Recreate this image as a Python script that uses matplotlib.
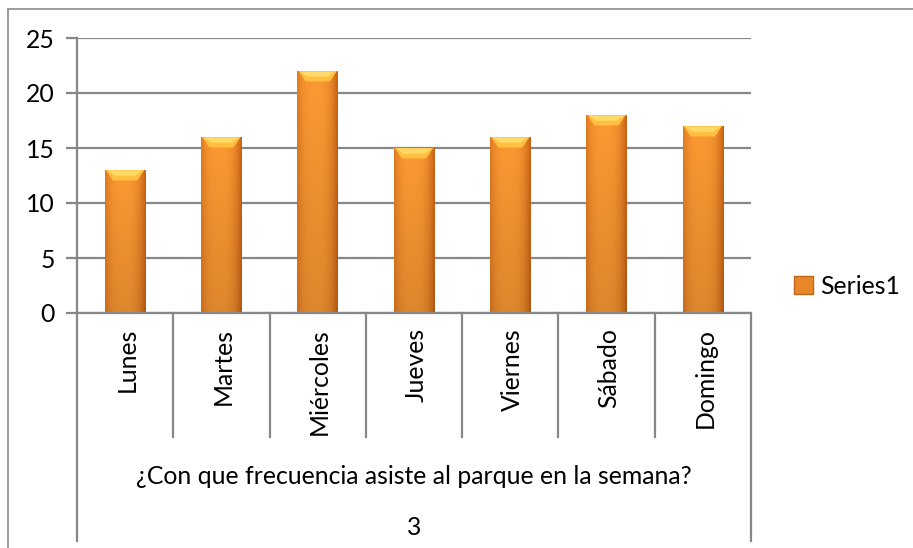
import numpy as np
import matplotlib
matplotlib.use("Agg")
import matplotlib.pyplot as plt
from matplotlib.lines import Line2D
from matplotlib.patches import Polygon, Patch
import matplotlib.transforms as mtransforms

categories = ["Lunes", "Martes", "Miércoles", "Jueves", "Viernes", "Sábado", "Domingo"]
values = [13, 16, 22, 15, 16, 18, 17]
yticks = [0, 5, 10, 15, 20, 25]
group_label = "¿Con que frecuencia asiste al parque en la semana?"
outer_label = "3"
series_name = "Series1"

plt.rcParams['font.family'] = ['Lato', 'DejaVu Sans']
W, H = 913, 548
fig = plt.figure(figsize=(W / 100, H / 100), dpi=100)
ax = fig.add_axes([77 / W, 1 - 313 / H, (751 - 77) / W, 275 / H])

grid_c = "#878787"
text_c = "#000000"
fs = 17.8

# bars with gradient fill
bw = 0.42
bars = ax.bar(range(len(values)), values, width=bw, color="#F7922E", zorder=3, linewidth=0)
xs = np.linspace(0, 1, 64)
edge = np.array([0.78, 0.38, 0.08])
mid = np.array([0.99, 0.60, 0.20])
prof = np.clip(1 - (np.abs(xs - 0.45) / 0.55) ** 3, 0, 1)
ys = np.linspace(0, 1, 64)
img = np.zeros((64, 64, 3))
for i, yy in enumerate(ys):
    shade = 0.88 + 0.12 * yy
    row = edge[None, :] + (mid - edge)[None, :] * prof[:, None]
    img[i] = np.clip(row * shade, 0, 1)
for b in bars:
    x0 = b.get_x(); w = b.get_width(); h = b.get_height()
    im = ax.imshow(img, extent=[x0, x0 + w, 0, h], origin="lower", aspect="auto", zorder=4,
                   interpolation="bilinear")
    im.set_clip_path(b)
    cap = 0.95
    d = w * 0.2
    poly = Polygon([[x0 + 0.01, h], [x0 + w - 0.01, h], [x0 + w - d, h - cap], [x0 + d, h - cap]],
                   closed=True, facecolor="#FFC040", edgecolor="none", zorder=5)
    ax.add_patch(poly)
    poly2 = Polygon([[x0 + 0.03, h - 0.05], [x0 + w - 0.03, h - 0.05], [x0 + w - d - 0.02, h - cap * 0.55], [x0 + d + 0.02, h - cap * 0.55]],
                    closed=True, facecolor="#FFDA68", edgecolor="none", zorder=6)
    ax.add_patch(poly2)

ax.set_xlim(-0.5, len(values) - 0.5)
ax.set_ylim(0, 25)
ax.set_yticks(yticks)
ax.set_yticklabels([str(v) for v in yticks], fontsize=fs, color=text_c)
ax.yaxis.grid(True, color=grid_c, linewidth=1.6, zorder=1)
ax.set_axisbelow(True)
ax.tick_params(axis="y", length=8, width=1.6, color=grid_c, pad=8)
ax.tick_params(axis="x", length=0)
ax.set_xticks([])
for s in ["top", "right"]:
    ax.spines[s].set_visible(False)
ax.spines["left"].set_color(grid_c)
ax.spines["left"].set_linewidth(1.6)
ax.spines["bottom"].set_color(grid_c)
ax.spines["bottom"].set_linewidth(1.6)
ax.spines["bottom"].set_zorder(7)

trans = mtransforms.blended_transform_factory(ax.transData, ax.transAxes)
n = len(categories)
for k in range(n + 1):
    xb = k - 0.5
    y_end = -0.829 if k in (0, n) else -0.451
    ax.add_line(Line2D([xb, xb], [0, y_end], transform=trans, color=grid_c, linewidth=1.6, clip_on=False))

for i, c in enumerate(categories):
    ax.text(i + 0.02, -0.055, c, transform=trans, rotation=90, ha="center", va="top", fontsize=fs, color=text_c)

ax.text(0.5, -0.595, group_label, transform=ax.transAxes, ha="center", va="center", fontsize=fs, color=text_c)
ax.text(0.5, -0.78, outer_label, transform=ax.transAxes, ha="center", va="center", fontsize=fs, color=text_c)

# legend
leg = ax.legend([Patch(facecolor="#E8862A", edgecolor="#C0661A")], [series_name], loc="center left",
                bbox_to_anchor=(794 / W, 1 - 286 / H), bbox_transform=fig.transFigure, frameon=False,
                fontsize=fs, handlelength=0.75, handleheight=0.75, handletextpad=0.3, borderpad=0, borderaxespad=0)

# chart outer border
fig.add_artist(Line2D([8 / W, 8 / W], [1 - 9 / H, 0], transform=fig.transFigure, color="#8C8C8C", linewidth=1.2))
fig.add_artist(Line2D([8 / W, 1], [1 - 9 / H, 1 - 9 / H], transform=fig.transFigure, color="#8C8C8C", linewidth=1.2))

fig.savefig("out.png", dpi=100)
